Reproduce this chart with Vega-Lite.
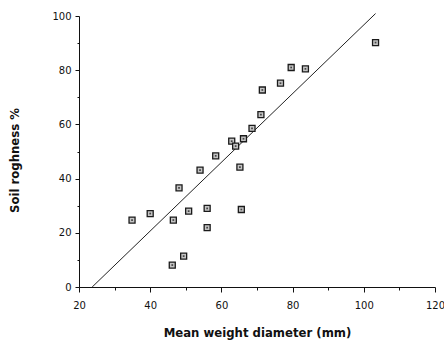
{
  "$schema": "https://vega.github.io/schema/vega-lite/v6.json",
  "width": 356,
  "height": 271,
  "autosize": "none",
  "padding": {"left": 79, "top": 16, "right": 9, "bottom": 55},
  "background": "white",
  "config": {
    "view": {"stroke": null},
    "axis": {"grid": false, "domainColor": "#111", "tickColor": "#111", "labelColor": "#111", "titleColor": "#111", "labelFont": "DejaVu Sans", "titleFont": "DejaVu Sans", "labelFontSize": 10, "titleFontSize": 11.7, "titleFontWeight": "bold"}
  },
  "datasets": {
    "pts": [
      {"mwd": 34.9, "rough": 24.7},
      {"mwd": 40.0, "rough": 27.1},
      {"mwd": 46.5, "rough": 24.7},
      {"mwd": 48.1, "rough": 36.6},
      {"mwd": 46.2, "rough": 8.1},
      {"mwd": 49.4, "rough": 11.4},
      {"mwd": 50.8, "rough": 28.0},
      {"mwd": 54.0, "rough": 43.1},
      {"mwd": 56.0, "rough": 29.0},
      {"mwd": 56.0, "rough": 21.9},
      {"mwd": 58.4, "rough": 48.4},
      {"mwd": 62.9, "rough": 53.8},
      {"mwd": 64.0, "rough": 52.0},
      {"mwd": 65.2, "rough": 44.2},
      {"mwd": 66.2, "rough": 54.7},
      {"mwd": 65.6, "rough": 28.6},
      {"mwd": 68.6, "rough": 58.5},
      {"mwd": 71.1, "rough": 63.6},
      {"mwd": 71.5, "rough": 72.7},
      {"mwd": 76.6, "rough": 75.2},
      {"mwd": 79.6, "rough": 81.0},
      {"mwd": 83.6, "rough": 80.5},
      {"mwd": 103.3, "rough": 90.2}
    ],
    "fit": [
      {"mwd": 23.7, "rough": 0},
      {"mwd": 103.3, "rough": 100.9}
    ]
  },
  "layer": [
    {
      "data": {"name": "fit"},
      "mark": {"type": "line", "color": "#222", "strokeWidth": 1, "clip": false},
      "encoding": {
        "x": {"field": "mwd", "type": "quantitative", "scale": {"domain": [20, 120], "nice": false},
          "axis": {"values": [20, 40, 60, 80, 100, 120], "tickSize": 5, "labelPadding": 8, "title": "Mean weight diameter (mm)", "titlePadding": 17, "labelFlush": false, "orient": "bottom"}},
        "y": {"field": "rough", "type": "quantitative", "scale": {"domain": [0, 100], "nice": false},
          "axis": {"values": [0, 20, 40, 60, 80, 100], "tickSize": 4, "labelPadding": 4, "title": "Soil roghness %", "titleX": -59, "titleY": 144, "labelFlush": false, "orient": "left"}}
      }
    },
    {
      "data": {"name": "pts"},
      "mark": {"type": "point", "shape": "square", "filled": true, "fill": "#c4c4c4", "stroke": "#1a1a1a", "strokeWidth": 1.3, "size": 36, "opacity": 1},
      "encoding": {
        "x": {"field": "mwd", "type": "quantitative", "axis": null},
        "y": {"field": "rough", "type": "quantitative", "axis": null}
      }
    },
    {
      "data": {"name": "pts"},
      "mark": {"type": "point", "shape": "square", "filled": true, "fill": "#444", "size": 3, "opacity": 1},
      "encoding": {
        "x": {"field": "mwd", "type": "quantitative",
          "axis": {"values": [30, 50, 70, 90, 110], "tickSize": 3, "labels": false, "title": null, "domain": false, "orient": "bottom"}},
        "y": {"field": "rough", "type": "quantitative",
          "axis": {"values": [10, 30, 50, 70, 90], "tickSize": 2, "labels": false, "title": null, "domain": false, "orient": "left"}}
      }
    }
  ],
  "resolve": {"axis": {"x": "independent", "y": "independent"}}
}
